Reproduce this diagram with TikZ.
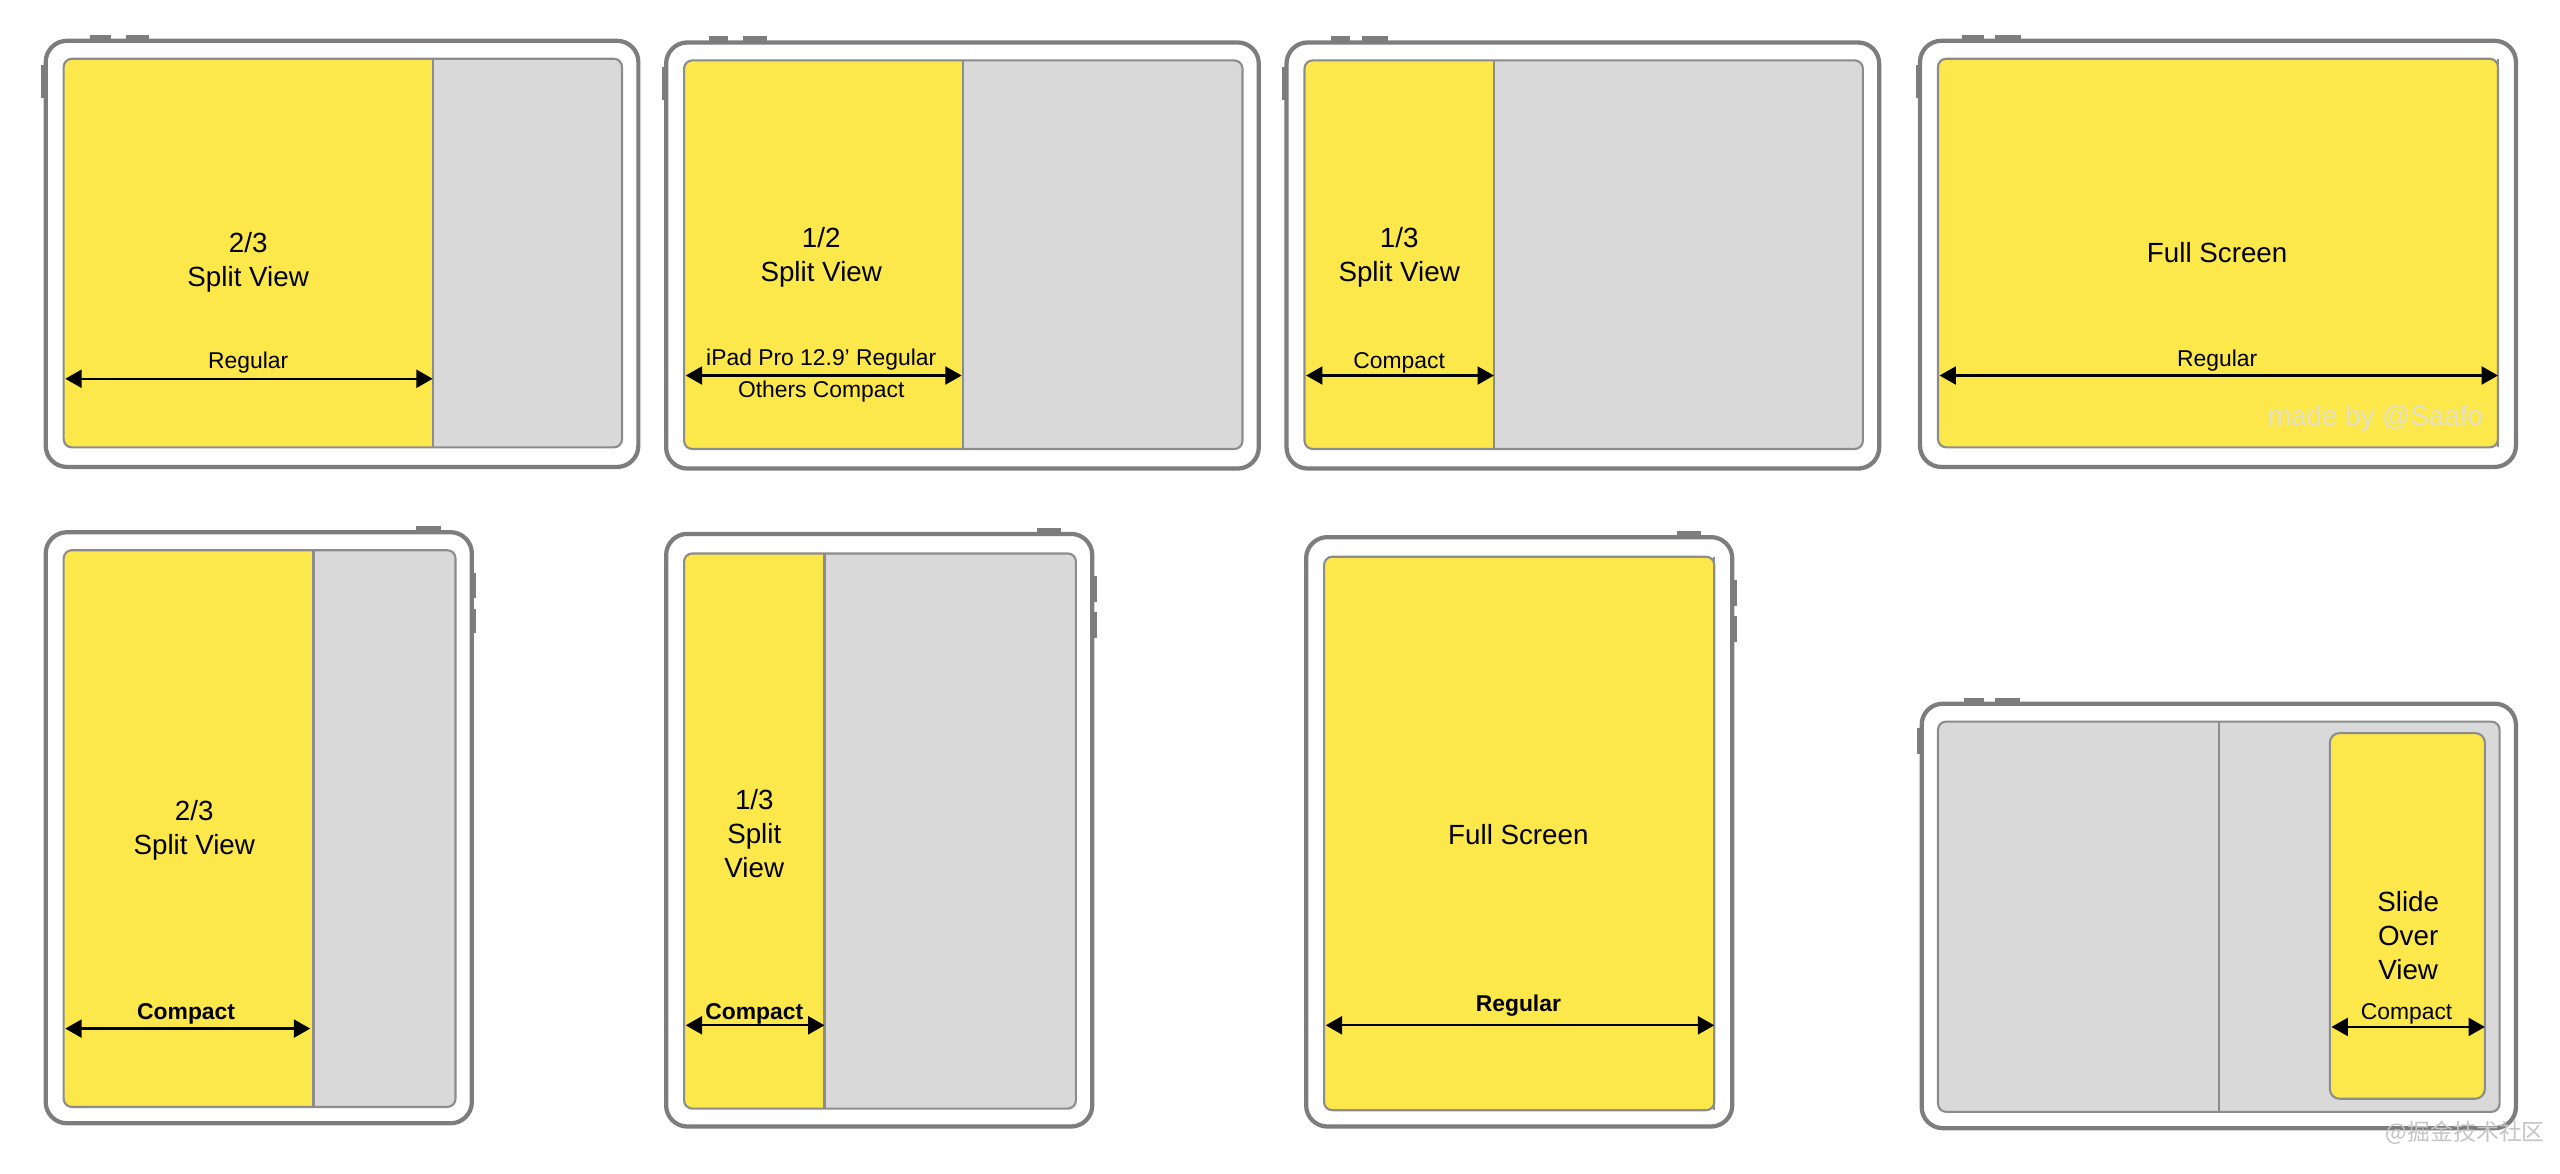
\documentclass[tikz,border=0pt]{standalone}
\usepackage{fontspec}
\setmainfont{Liberation Sans}
\newfontfamily\cjkfont{Noto Sans CJK SC}
\usetikzlibrary{arrows.meta}
\definecolor{ylw}{HTML}{FCE84B}
\definecolor{scr}{HTML}{D9D9D9}
\definecolor{framec}{HTML}{7D7D7D}
\definecolor{slinec}{HTML}{8C8C8C}
\definecolor{wmc}{HTML}{E2E0C8}
\definecolor{wmtwo}{HTML}{C4C4C4}
\tikzset{
 device/.style={draw=framec, line width=2.6pt, rounded corners=13pt, fill=white},
 screen/.style={draw=slinec, line width=1.3pt, rounded corners=5pt},
 divider/.style={draw=slinec, line width=1.3pt},
 btn/.style={draw=framec, line width=3.4pt},
 dim/.style={draw=black, line width=1.4pt, {Triangle[length=10pt,width=11pt]}-{Triangle[length=10pt,width=11pt]}},
 title/.style={font=\fontsize{17}{21}\selectfont, align=center, inner sep=0pt},
 lbl/.style={font=\fontsize{14}{17}\selectfont, inner sep=0pt},
 lblb/.style={font=\bfseries\fontsize{14}{17}\selectfont, inner sep=0pt},
}
\newcommand\myscreen[5]{%
 \begin{scope}
 \clip[rounded corners=5pt] (#1,#2) rectangle (#3,#4);
 \fill[scr] (#1,#2) rectangle (#3,#4);
 \fill[ylw] (#1,#2) rectangle (#5,#4);
 \end{scope}
 \draw[divider] (#5,#2) -- (#5,#4);
 \draw[screen] (#1,#2) rectangle (#3,#4);
}
\begin{document}
\begin{tikzpicture}[x=1pt,y=-1pt]
\useasboundingbox[fill=white] (0,0) rectangle (1568,719);

% ---------- D1: landscape 2/3 ----------
\draw[btn] (55,23) -- (68,23); \draw[btn] (77,23) -- (91,23); \draw[btn] (27,40) -- (27,60);
\draw[device] (28,25) rectangle (391,286);
\myscreen{39}{36}{381}{274}{265}
\node[title] (t1) at (152,160.5) {2/3\\Split View};
\node[lbl] (l1) at (152,222) {Regular};
\coordinate (a1l) at (40,232); \coordinate (a1r) at (265,232);
\draw[dim] (a1l) -- (a1r);

% ---------- D2: landscape 1/2 ----------
\draw[btn] (434,24) -- (446,24); \draw[btn] (455,24) -- (470,24); \draw[btn] (407,41) -- (407,61);
\draw[device] (408,26) rectangle (771,287);
\myscreen{419}{37}{761}{275}{590}
\node[title] (t2) at (503,157.5) {1/2\\Split View};
\node[lbl] (l2a) at (503,220) {iPad Pro 12.9' Regular};
\node[lbl] (l2b) at (503,240) {Others Compact};
\coordinate (a2l) at (420,230); \coordinate (a2r) at (589,230);
\draw[dim] (a2l) -- (a2r);

% ---------- D3: landscape 1/3 ----------
\draw[btn] (815,24) -- (827,24); \draw[btn] (834,24) -- (850,24); \draw[btn] (787,41) -- (787,61);
\draw[device] (788,26) rectangle (1151,287);
\myscreen{799}{37}{1141}{275}{915}
\node[title] (t3) at (857,157.5) {1/3\\Split View};
\node[lbl] (l3) at (857,222) {Compact};
\coordinate (a3l) at (800,230); \coordinate (a3r) at (915,230);
\draw[dim] (a3l) -- (a3r);

% ---------- D4: landscape full ----------
\draw[btn] (1202,23) -- (1215,23); \draw[btn] (1222,23) -- (1238,23); \draw[btn] (1175,40) -- (1175,60);
\draw[device] (1176,25) rectangle (1541,286);
\myscreen{1187}{36}{1530}{274}{1530}
\node[title] (t4) at (1358,155) {Full Screen};
\node[lbl] (l4) at (1358,221) {Regular};
\coordinate (a4l) at (1188,230); \coordinate (a4r) at (1530,230);
\draw[dim] (a4l) -- (a4r);
\node[font=\fontsize{17}{20}\selectfont, text=wmc, inner sep=0pt] (wm1) at (1455,256) {made by @Saafo};

% ---------- D5: portrait 2/3 ----------
\draw[btn] (255,324) -- (270,324); \draw[btn] (290,351) -- (290,366); \draw[btn] (290,373) -- (290,388);
\draw[device] (28,326) rectangle (289,688);
\myscreen{39}{337}{279}{678}{192}
\node[title] (t5) at (119,508.5) {2/3\\Split View};
\node[lblb] (l5) at (114,621) {Compact};
\coordinate (a5l) at (40,630); \coordinate (a5r) at (190,630);
\draw[dim] (a5l) -- (a5r);

% ---------- D6: portrait 1/3 ----------
\draw[btn] (635,325) -- (650,325); \draw[btn] (670,353) -- (670,369); \draw[btn] (670,375) -- (670,391);
\draw[device] (408,327) rectangle (669,690);
\myscreen{419}{339}{659}{679}{505}
\node[title] (t6) at (462,510.5) {1/3\\Split\\View};
\node[lblb] (l6) at (462,621) {Compact};
\coordinate (a6l) at (420,628); \coordinate (a6r) at (505,628);
\draw[dim] (a6l) -- (a6r);

% ---------- D7: portrait full ----------
\draw[btn] (1027,327) -- (1042,327); \draw[btn] (1062,355) -- (1062,371); \draw[btn] (1062,377) -- (1062,393);
\draw[device] (800,329) rectangle (1061,690);
\myscreen{811}{341}{1050}{680}{1050}
\node[title] (t7) at (930,511) {Full Screen};
\node[lblb] (l7) at (930,616) {Regular};
\coordinate (a7l) at (812,628); \coordinate (a7r) at (1050,628);
\draw[dim] (a7l) -- (a7r);

% ---------- D8: landscape slide over ----------
\draw[btn] (1203,429) -- (1215,429); \draw[btn] (1222,429) -- (1237,429); \draw[btn] (1176,446) -- (1176,462);
\draw[device] (1177,431) rectangle (1541,691);
\draw[screen, fill=scr] (1187,442) rectangle (1531,681);
\draw[divider] (1359,442) -- (1359,681);
\draw[screen, fill=ylw, rounded corners=6pt] (1427,449) rectangle (1522,673);
\node[title] (t8) at (1475,573) {Slide\\Over\\View};
\node[lbl] (l8) at (1474,621) {Compact};
\coordinate (a8l) at (1428,629); \coordinate (a8r) at (1522,629);
\draw[dim] (a8l) -- (a8r);

\node[font=\cjkfont\fontsize{14}{16}\selectfont, text=wmtwo, inner sep=0pt] (wm2) at (1510,694) {@掘金技术社区};
\end{tikzpicture}
\end{document}
